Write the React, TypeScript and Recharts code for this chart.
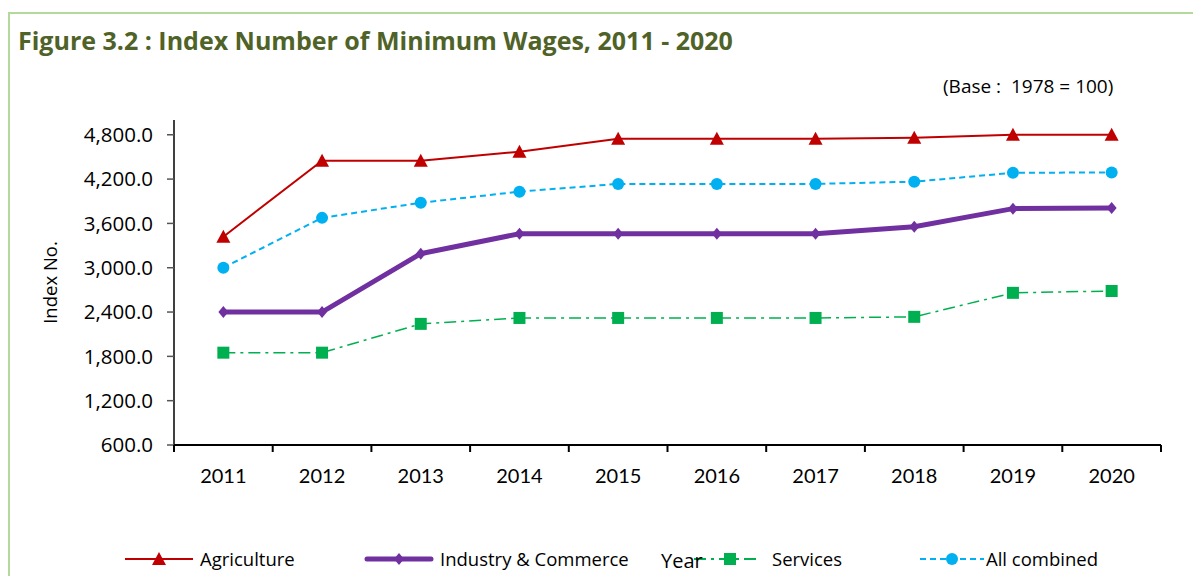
import React from "react";
import { LineChart, Line, XAxis, YAxis } from "recharts";

const years = ["2011", "2012", "2013", "2014", "2015", "2016", "2017", "2018", "2019", "2020"];
const agriculture = [3420, 4450, 4450, 4570, 4745, 4745, 4745, 4760, 4800, 4800];
const industry = [2400, 2400, 3190, 3460, 3460, 3460, 3460, 3555, 3800, 3810];
const services = [1850, 1850, 2240, 2320, 2320, 2320, 2320, 2335, 2660, 2685];
const allCombined = [3000, 3675, 3880, 4030, 4135, 4135, 4135, 4165, 4285, 4290];
const yTicks = [600, 1200, 1800, 2400, 3000, 3600, 4200, 4800];

const data = years.map((y, i) => ({
  idx: i + 1,
  year: y,
  agriculture: agriculture[i],
  industry: industry[i],
  services: services[i],
  allCombined: allCombined[i],
}));

// tick positions: category boundaries (x.5) get a mark, centers (integers) get a label
const xTicks: number[] = [];
for (let i = 0; i <= years.length; i++) {
  xTicks.push(i + 0.5);
  if (i < years.length) xTicks.push(i + 1);
}

const FONT = "Lato, 'Open Sans', sans-serif";
const FONT2 = "'Open Sans', Lato, sans-serif";
const RED = "#c00000";
const PURPLE = "#7030a0";
const GREEN = "#00b050";
const CYAN = "#00b0f0";

const Triangle = (props: any) => {
  const { cx, cy } = props;
  if (cx == null || cy == null) return null;
  return <path d={`M${cx},${cy - 7} L${cx + 7},${cy + 6} L${cx - 7},${cy + 6} Z`} fill={RED} />;
};
const Diamond = (props: any) => {
  const { cx, cy } = props;
  if (cx == null || cy == null) return null;
  return <path d={`M${cx},${cy - 6} L${cx + 5},${cy} L${cx},${cy + 6} L${cx - 5},${cy} Z`} fill={PURPLE} />;
};
const Square = (props: any) => {
  const { cx, cy } = props;
  if (cx == null || cy == null) return null;
  return <rect x={cx - 6} y={cy - 6} width={12} height={12} fill={GREEN} />;
};
const Circle = (props: any) => {
  const { cx, cy } = props;
  if (cx == null || cy == null) return null;
  return <circle cx={cx} cy={cy} r={6} fill={CYAN} />;
};

const XTick = (props: any) => {
  const { x, y, payload } = props;
  const v = payload.value as number;
  if (Number.isInteger(v)) {
    return (
      <text x={x} y={y + 38} textAnchor="middle" fontSize={20} fontFamily={FONT} fill="#000">
        {years[v - 1]}
      </text>
    );
  }
  return <line x1={x} y1={y} x2={x} y2={y + 7} stroke="#000" strokeWidth={2} />;
};

const fmt = (v: number) =>
  v.toLocaleString("en-US", { minimumFractionDigits: 1, maximumFractionDigits: 1 });

const LegendItem = ({ left, width, children, label, textLeft }: any) => (
  <>
    <svg style={{ position: "absolute", left, top: 541, overflow: "visible" }} width={width} height={20}>
      {children}
    </svg>
    <span style={{ position: "absolute", left: textLeft, top: 538, fontSize: 18.5, fontFamily: FONT2, color: "#000", whiteSpace: "nowrap" }}>
      {label}
    </span>
  </>
);

export default function App() {
  return (
    <div style={{ position: "relative", width: 1193, height: 568, overflow: "hidden", fontFamily: FONT }}>
      <div
        style={{
          position: "absolute",
          left: 0,
          top: 4,
          width: 1200,
          height: 620,
          border: "2px solid #b3d99b",
          boxSizing: "border-box",
        }}
      />
      <div
        style={{
          position: "absolute",
          left: 10,
          top: 15,
          fontSize: 25,
          fontWeight: 700,
          color: "#4f6228",
          fontFamily: FONT2,
          whiteSpace: "nowrap",
        }}
      >
        Figure 3.2 : Index Number of Minimum Wages, 2011 - 2020
      </div>
      <div
        style={{
          position: "absolute",
          left: 935,
          top: 65,
          fontSize: 19,
          color: "#000",
          fontFamily: FONT2,
          whiteSpace: "pre",
        }}
      >
        (Base :  1978 = 100)
      </div>
      <div style={{ position: "absolute", left: 0, top: 0 }}>
        <LineChart width={1185} height={480} data={data} margin={{ top: 112, right: 32, left: 0, bottom: 3 }}>
          <XAxis
            dataKey="idx"
            type="number"
            domain={[0.5, years.length + 0.5]}
            ticks={xTicks}
            tick={<XTick />}
            tickLine={false}
            tickSize={0}
            tickMargin={0}
            axisLine={{ stroke: "#000", strokeWidth: 2 }}
            height={40}
            interval={0}
          />
          <YAxis
            type="number"
            domain={[600, 5000]}
            ticks={yTicks}
            tickFormatter={fmt}
            width={166}
            tickSize={7}
            tickMargin={14}
            axisLine={{ stroke: "#000", strokeWidth: 1.5 }}
            tickLine={{ stroke: "#555", strokeWidth: 1.5 }}
            tick={{ fill: "#000", fontSize: 20.5, fontFamily: FONT2 }}
            interval={0}
            label={{
              value: "Index No.",
              angle: -90,
              position: "insideLeft",
              offset: 42,
              style: { fontSize: 18.5, fill: "#000", fontFamily: FONT2, textAnchor: "middle" },
            }}
          />
          <Line dataKey="agriculture" stroke={RED} strokeWidth={2} dot={<Triangle />} isAnimationActive={false} />
          <Line dataKey="allCombined" stroke={CYAN} strokeWidth={2} strokeDasharray="6 4" dot={<Circle />} isAnimationActive={false} />
          <Line dataKey="industry" stroke={PURPLE} strokeWidth={5} dot={<Diamond />} isAnimationActive={false} />
          <Line dataKey="services" stroke={GREEN} strokeWidth={1.5} strokeDasharray="12 5 3 5" dot={<Square />} isAnimationActive={false} />
        </LineChart>
      </div>
      <LegendItem left={117} width={70} textLeft={192} label="Agriculture">
        <line x1={0} y1={10} x2={68} y2={10} stroke={RED} strokeWidth={2} />
        <Triangle cx={34} cy={10} />
      </LegendItem>
      <LegendItem left={357} width={70} textLeft={432} label="Industry & Commerce">
        <line x1={2} y1={10} x2={66} y2={10} stroke={PURPLE} strokeWidth={5} strokeLinecap="round" />
        <Diamond cx={34} cy={10} />
      </LegendItem>
      <LegendItem left={686} width={70} textLeft={764} label="Services">
        <line x1={0} y1={10} x2={66} y2={10} stroke={GREEN} strokeWidth={2} strokeDasharray="12 5 3 5" />
        <Square cx={36} cy={10} />
      </LegendItem>
      <LegendItem left={912} width={70} textLeft={978} label="All combined">
        <line x1={0} y1={10} x2={64} y2={10} stroke={CYAN} strokeWidth={2} strokeDasharray="6 4" />
        <Circle cx={32} cy={10} />
      </LegendItem>
      <div style={{ position: "absolute", left: 653, top: 540, fontSize: 20, lineHeight: "26px", fontFamily: FONT2, color: "#000" }}>Year</div>
    </div>
  );
}
